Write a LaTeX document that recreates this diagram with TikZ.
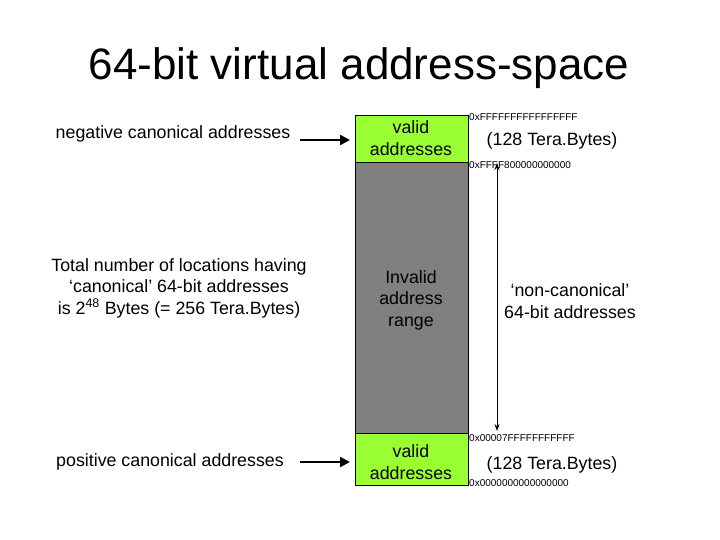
\documentclass[tikz,border=0pt]{standalone}
\usepackage{fontspec}
\setmainfont{Liberation Sans}
\usetikzlibrary{arrows.meta}
\definecolor{lime}{RGB}{153,255,51}
\definecolor{gr}{RGB}{128,128,128}
\begin{document}
\begin{tikzpicture}[x=1pt,y=-1pt,
  txt/.style={font=\fontsize{17.8}{21.5}\selectfont,align=center,inner sep=0},
  hex/.style={font=\fontsize{10}{10}\selectfont,anchor=west,inner sep=0},
  box/.style={draw=black,line width=0.8pt},
  bigarrow/.style={line width=2.4pt,-{Triangle[length=10pt,width=10pt]}}]
\useasboundingbox (0,0) rectangle (720,540);
\node[font=\fontsize{44}{50}\selectfont,inner sep=0] (title) at (359,68) {64-bit virtual address-space};
\node[box,fill=lime,minimum width=113pt,minimum height=47pt,anchor=north west,inner sep=0] (top) at (355,115) {};
\node[box,fill=gr,minimum width=113pt,minimum height=271pt,anchor=north west,inner sep=0] (mid) at (355,162) {};
\node[box,fill=lime,minimum width=113pt,minimum height=52pt,anchor=north west,inner sep=0] (bot) at (355,433) {};
\node[txt] (t1) at (411,138) {valid\\addresses};
\node[txt] (t2) at (411,300) {Invalid\\address\\range};
\node[txt] (t3) at (411,462) {valid\\addresses};
\node[hex] (h1) at (469,117) {0xFFFFFFFFFFFFFFFF};
\node[hex] (h2) at (469,165) {0xFFFF800000000000};
\node[hex] (h3) at (469,438) {0x00007FFFFFFFFFFF};
\node[hex] (h4) at (469,483) {0x0000000000000000};
\node[txt] (s1) at (552,141) {(128 Tera.Bytes)};
\node[txt] (s2) at (552,465) {(128 Tera.Bytes)};
\node[txt] (nc) at (570,301) {‘non-canonical’\\64-bit addresses};
\coordinate (a1) at (497,163);
\coordinate (a2) at (497,431);
\draw[line width=1pt,{Stealth[length=7pt,width=5pt]}-{Stealth[length=7pt,width=5pt]}] (a1) -- (a2);
\node[txt] (neg) at (173,134) {negative canonical addresses};
\node[txt] (pos) at (170,462) {positive canonical addresses};
\node[txt] (tot) at (179,288) {Total number of locations having\\‘canonical’ 64-bit addresses\\is 2\textsuperscript{48} Bytes (= 256 Tera.Bytes)};
\coordinate (n0) at (300,140);
\coordinate (n1) at (350,140);
\coordinate (p0) at (300,462);
\coordinate (p1) at (350,462);
\draw[bigarrow] (n0) -- (n1);
\draw[bigarrow] (p0) -- (p1);
\end{tikzpicture}
\end{document}
